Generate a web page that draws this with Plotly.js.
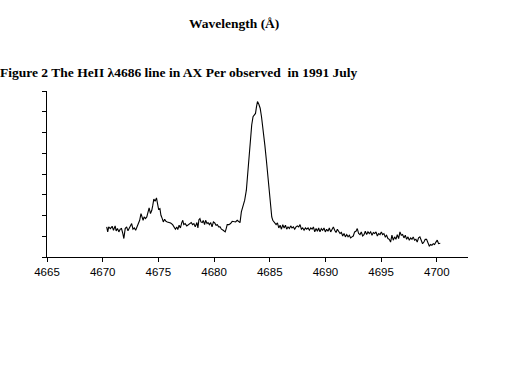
<!DOCTYPE html>
<html>
<head>
<meta charset="utf-8">
<script src="https://cdn.plot.ly/plotly-3.0.1.min.js"></script>
<style>html,body{margin:0;padding:0;background:#fff;}#chart{width:512px;height:384px;}</style>
</head>
<body>
<div id="chart"></div>
<script>
const chartTitle = "Figure 2 The HeII λ4686 line in AX Per observed  in 1991 July";
const axisTitle = "Wavelength (Å)";
const xTickVals = [4665, 4670, 4675, 4680, 4685, 4690, 4695, 4700];

const wavelength = [
4670.36,4670.45,4670.54,4670.69,4670.85,4670.97,4671.12,4671.21,4671.33,4671.45,4671.57,4671.69,4671.81,4671.90,
4672.02,4672.15,4672.27,4672.39,4672.51,4672.60,4672.72,4672.84,4672.96,4673.08,4673.20,4673.32,4673.44,4673.53,
4673.63,4673.72,4673.84,4673.96,4674.05,4674.17,4674.29,4674.41,4674.50,4674.59,4674.71,4674.83,4674.92,4675.02,
4675.14,4675.23,4675.35,4675.44,4675.56,4675.68,4675.80,4675.95,4676.10,4676.28,4676.41,4676.53,4676.65,4676.74,
4676.86,4676.98,4677.10,4677.19,4677.28,4677.40,4677.55,4677.67,4677.79,4677.95,4678.07,4678.19,4678.31,4678.46,
4678.55,4678.64,4678.73,4678.82,4678.94,4679.03,4679.15,4679.24,4679.37,4679.46,4679.58,4679.70,4679.82,4679.94,
4680.06,4680.18,4680.30,4680.42,4680.54,4680.66,4680.82,4681.00,4681.09,4681.18,4681.33,4681.48,4681.63,4681.78,
4681.93,4682.08,4682.24,4682.33,4682.45,4682.60,4682.75,4682.90,4683.02,4683.14,4683.26,4683.38,4683.50,4683.60,
4683.72,4683.81,4683.90,4684.02,4684.14,4684.26,4684.41,4684.56,4684.71,4684.86,4684.98,
4685.06,4685.18,4685.27,4685.42,4685.57,4685.69,4685.81,4685.93,4686.05,4686.17,4686.29,4686.41,4686.52,4686.64,
4686.76,4686.88,4687.00,4687.12,4687.24,4687.36,4687.48,4687.60,4687.72,4687.84,4687.96,4688.08,4688.20,4688.32,
4688.44,4688.56,4688.68,4688.80,4688.92,4689.04,4689.16,4689.28,4689.39,4689.51,4689.63,4689.75,4689.87,4689.99,
4690.11,4690.23,4690.35,4690.47,4690.59,4690.71,4690.83,4690.95,4691.07,4691.19,4691.31,4691.43,4691.55,4691.67,
4691.79,4691.91,4692.03,4692.15,4692.26,4692.38,4692.50,4692.62,4692.74,4692.86,4692.98,4693.10,4693.22,4693.34,
4693.46,4693.58,4693.70,4693.82,4693.94,4694.06,4694.18,4694.30,4694.42,4694.54,4694.66,4694.78,4694.90,4695.02,
4695.13,4695.25,4695.37,4695.49,4695.61,4695.73,4695.85,4695.97,4696.09,4696.21,4696.33,4696.45,4696.57,4696.69,
4696.81,4696.93,4697.05,4697.17,4697.29,4697.41,4697.53,4697.65,4697.77,4697.88,4698.00,4698.12,4698.24,4698.36,
4698.48,4698.60,4698.72,4698.84,4698.96,4699.08,4699.20,4699.32,4699.44,4699.56,4699.68,4699.80,4699.92,4700.04,
4700.16,4700.31
];

const flux = [
1.45,1.21,1.45,1.37,1.48,1.29,1.50,1.26,1.37,1.21,1.34,1.37,1.13,0.89,
1.37,1.45,1.26,1.40,1.50,1.61,1.34,1.40,1.29,1.48,1.56,1.77,2.09,1.93,
1.77,1.93,1.85,1.93,2.17,2.37,2.09,2.25,2.50,2.79,2.69,2.85,2.58,2.30,
2.33,2.01,1.85,1.69,1.82,1.72,1.69,1.66,1.64,1.56,1.45,1.34,1.45,1.32,
1.53,1.40,1.66,1.77,1.56,1.61,1.50,1.56,1.61,1.66,1.56,1.61,1.45,1.66,
1.40,1.80,1.85,1.69,1.66,1.76,1.56,1.77,1.61,1.66,1.56,1.66,1.45,1.69,
1.64,1.53,1.56,1.45,1.45,1.34,1.29,1.21,1.37,1.56,1.56,1.61,1.72,1.72,
1.69,1.77,1.69,1.66,2.17,2.42,2.74,3.22,3.95,4.91,5.72,6.36,6.76,6.84,
6.92,7.25,7.49,7.36,7.17,6.76,6.20,5.39,4.59,3.78,2.98,
2.50,1.93,1.77,1.69,1.56,1.64,1.40,1.53,1.34,1.56,1.40,1.53,1.34,1.45,
1.37,1.50,1.40,1.45,1.34,1.45,1.50,1.45,1.56,1.34,1.40,1.29,1.40,1.34,
1.40,1.29,1.40,1.34,1.45,1.21,1.37,1.24,1.40,1.21,1.37,1.29,1.40,1.21,
1.34,1.24,1.40,1.21,1.37,1.45,1.29,1.18,1.34,1.24,1.13,1.18,1.01,1.13,
0.97,1.08,0.97,1.05,0.92,0.97,1.01,1.21,1.24,1.37,1.13,1.08,1.21,1.01,
1.08,1.24,1.08,1.21,1.13,1.21,1.05,1.18,1.13,1.21,1.01,1.13,1.08,1.21,
1.08,1.13,0.97,1.05,0.89,0.85,0.72,1.05,0.81,0.97,0.85,1.08,0.89,1.21,
1.05,1.08,0.92,1.05,0.85,0.97,0.81,0.92,0.85,0.97,0.81,0.85,0.72,0.92,
0.97,0.81,0.64,0.72,0.85,0.85,0.72,0.53,0.60,0.56,0.64,0.60,0.72,0.81,
0.64,0.66
];

const trace = {
  x: wavelength, y: flux, type: 'scatter', mode: 'lines',
  line: {color: '#000000', width: 1.1}, hoverinfo: 'skip', showlegend: false
};

const layout = {
  width: 512, height: 384,
  paper_bgcolor: '#ffffff', plot_bgcolor: '#ffffff',
  margin: {l: 47, r: 44, t: 91, b: 127, pad: 0},
  showlegend: false,
  xaxis: {
    range: [4665, 4702.8], tickvals: xTickVals, ticktext: xTickVals.map(String),
    showgrid: false, zeroline: false, showline: true, linecolor: '#000', linewidth: 1,
    ticks: 'outside', ticklen: 4, tickcolor: '#000', tickwidth: 1,
    tickfont: {family: 'Liberation Sans, Arial, sans-serif', size: 11.5, color: '#000'},
    fixedrange: true
  },
  yaxis: {
    range: [0, 8], dtick: 1, tick0: 0,
    showgrid: false, zeroline: false, showline: true, linecolor: '#000', linewidth: 1,
    ticks: 'outside', ticklen: 4, tickcolor: '#000', tickwidth: 1,
    showticklabels: false, fixedrange: true
  },
  annotations: [
    {text: '<b>' + axisTitle + '</b>', xref: 'paper', yref: 'paper', x: 0.444, y: 1.404,
     xanchor: 'center', yanchor: 'middle', showarrow: false,
     font: {family: 'Liberation Serif, Times New Roman, serif', size: 13.5, color: '#000'}},
    {text: '<b>' + chartTitle + '</b>', xref: 'paper', yref: 'paper', x: -0.117, y: 1.109,
     xanchor: 'left', yanchor: 'middle', showarrow: false,
     font: {family: 'Liberation Serif, Times New Roman, serif', size: 13.5, color: '#000'}}
  ]
};

Plotly.newPlot('chart', [trace], layout, {staticPlot: true, displayModeBar: false});
</script>
</body>
</html>
